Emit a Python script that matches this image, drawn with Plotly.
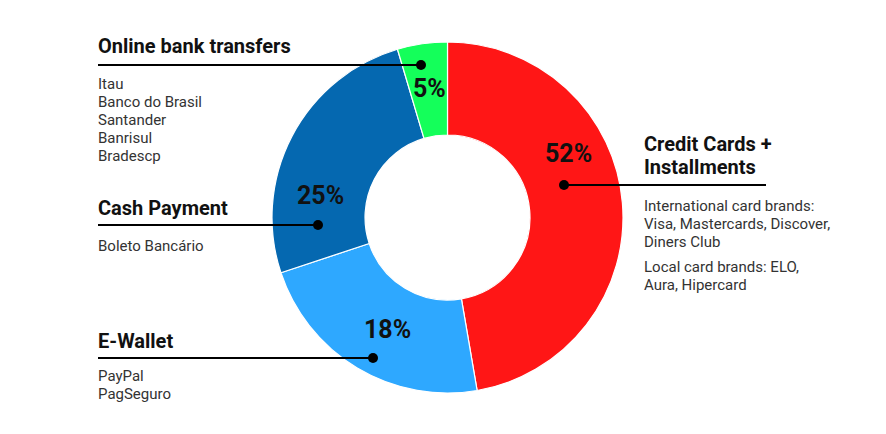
import plotly.graph_objects as go

# ---- data ----
categories = ["Credit Cards + Installments", "E-Wallet", "Cash Payment", "Online bank transfers"]
slice_shares = [47.3, 22.6, 25.5, 4.6]          # drawn slice sizes
pct_labels = [52, 18, 25, 5]                     # printed percentages
slice_colors = ["#FF1616", "#2EA8FF", "#0568B0", "#14FF5A"]
title_lines = {
    "Credit Cards + Installments": ["Credit Cards +", "Installments"],
    "E-Wallet": ["E-Wallet"],
    "Cash Payment": ["Cash Payment"],
    "Online bank transfers": ["Online bank transfers"],
}
detail_lines = {
    "Credit Cards + Installments": ["International card brands:", "Visa, Mastercards, Discover,", "Diners Club",
                                    "Local card brands: ELO,", "Aura, Hipercard"],
    "E-Wallet": ["PayPal", "PagSeguro"],
    "Cash Payment": ["Boleto Bancário"],
    "Online bank transfers": ["Itau", "Banco do Brasil", "Santander", "Banrisul", "Bradescp"],
}

# ---- layout helpers (pixel positions) ----
W, H = 886, 434
cx, cy, R = 447.5, 217.5, 175.5
title_pos = {
    "Credit Cards + Installments": (644, [144, 167]),
    "E-Wallet": (98, [341]),
    "Cash Payment": (98, [208]),
    "Online bank transfers": (98, [46]),
}
detail_pos = {
    "Credit Cards + Installments": (644, [206, 224, 242, 267, 285]),
    "E-Wallet": (98, [376, 394]),
    "Cash Payment": (98, [246]),
    "Online bank transfers": (98, [84, 102, 120, 138, 156]),
}
leader = {  # (x_start, x_end, y, dot_x)
    "Credit Cards + Installments": (564, 766, 185, 564),
    "E-Wallet": (98, 373, 358, 373),
    "Cash Payment": (98, 318, 225, 318),
    "Online bank transfers": (98, 421, 65, 421),
}
pct_pos = {
    "Credit Cards + Installments": (568, 153),
    "E-Wallet": (387.5, 329),
    "Cash Payment": (320.5, 195),
    "Online bank transfers": (429.5, 88.5),
}

fig = go.Figure()
fig.add_trace(go.Pie(
    labels=categories, values=slice_shares, sort=False, direction="clockwise", rotation=0,
    hole=0.47, marker=dict(colors=slice_colors, line=dict(color="white", width=1.2)),
    textinfo="none", hoverinfo="label",
    domain=dict(x=[(cx - R) / W, (cx + R) / W], y=[1 - (cy + R) / H, 1 - (cy - R) / H]),
))
# invisible scatter to activate cartesian axes
fig.add_trace(go.Scatter(x=[0, W], y=[0, H], mode="markers", marker=dict(opacity=0), hoverinfo="skip", showlegend=False))

ann = []
shapes = []
for i, cat in enumerate(categories):
    tx, tys = title_pos[cat]
    for line, ty in zip(title_lines[cat], tys):
        ann.append(dict(x=tx, y=ty, xshift=-2, text="<b>" + line + "</b>", showarrow=False, xanchor="left", yanchor="middle",
                        font=dict(family="Roboto", size=20, color="#111111")))
    dx, dys = detail_pos[cat]
    for line, dy in zip(detail_lines[cat], dys):
        ann.append(dict(x=dx, y=dy, xshift=-2, text=line, showarrow=False, xanchor="left", yanchor="middle",
                        font=dict(family="Roboto", size=15, color="#333333")))
    px, py = pct_pos[cat]
    ann.append(dict(x=px, y=py, text="<b>%d%%</b>" % pct_labels[i], showarrow=False, xanchor="center", yanchor="middle",
                    font=dict(family="Roboto", size=25, color="#111111")))
    x0, x1, ly, dotx = leader[cat]
    shapes.append(dict(type="line", x0=x0, x1=x1, y0=ly, y1=ly, line=dict(color="black", width=2)))
    shapes.append(dict(type="circle", x0=dotx - 5, x1=dotx + 5, y0=ly - 5, y1=ly + 5,
                       fillcolor="black", line=dict(color="black", width=0)))

fig.update_layout(
    width=W, height=H, margin=dict(l=0, r=0, t=0, b=0),
    paper_bgcolor="white", plot_bgcolor="rgba(0,0,0,0)", showlegend=False,
    xaxis=dict(range=[0, W], visible=False, fixedrange=True),
    yaxis=dict(range=[H, 0], visible=False, fixedrange=True),
    annotations=ann, shapes=shapes,
)
fig.write_html("out.html")
